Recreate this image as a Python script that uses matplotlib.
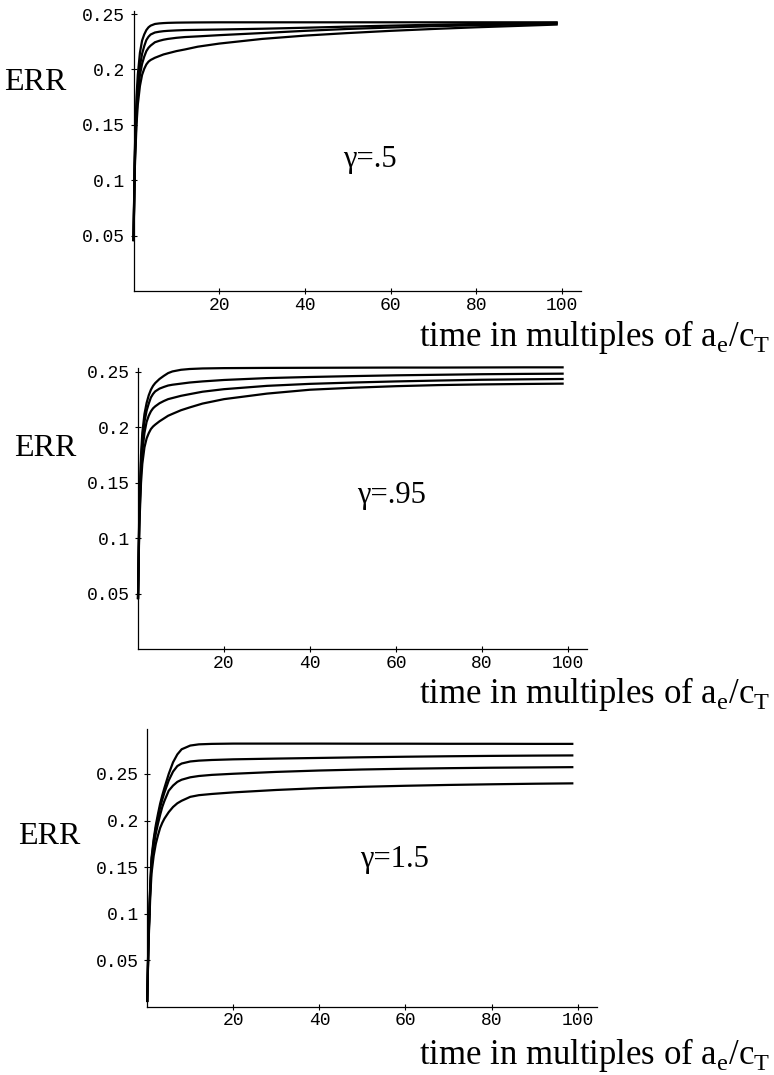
import matplotlib
matplotlib.use("Agg")
from matplotlib import pyplot as plt

plt.rcParams['mathtext.fontset'] = 'custom'
plt.rcParams['mathtext.rm'] = 'Liberation Serif'

# sample times (multiples of a_e/c_T)
t = [0, 0.3, 0.7, 1, 1.5, 2, 2.5, 3, 3.5, 4, 5, 6, 7, 8, 10, 12, 15, 20, 30, 40, 50, 60, 70, 80, 90, 99]

# gamma = .5
g05_c1 = [0.045, 0.125, 0.175, 0.195, 0.215, 0.226, 0.2315, 0.2355, 0.238, 0.2395, 0.241, 0.2415, 0.2418,
          0.242, 0.2422, 0.2423, 0.2424, 0.2425, 0.2425, 0.2425, 0.2425, 0.2425, 0.2425, 0.2425, 0.2425, 0.2425]
g05_c2 = [0.045, 0.12, 0.165, 0.185, 0.203, 0.214, 0.221, 0.2265, 0.2295, 0.2315, 0.2333, 0.234, 0.2345,
          0.2348, 0.2352, 0.2355, 0.2357, 0.236, 0.2367, 0.2376, 0.2386, 0.2395, 0.2403, 0.241, 0.2415, 0.242]
g05_c3 = [0.045, 0.115, 0.158, 0.177, 0.195, 0.205, 0.2115, 0.2165, 0.2195, 0.2215, 0.2245, 0.2258, 0.2268,
          0.2275, 0.2285, 0.2292, 0.2298, 0.2309, 0.2328, 0.2348, 0.2365, 0.2378, 0.239, 0.2398, 0.2405, 0.2413]
g05_c4 = [0.045, 0.11, 0.15, 0.168, 0.185, 0.195, 0.2005, 0.2045, 0.207, 0.2085, 0.2105, 0.212, 0.2135,
          0.2145, 0.2165, 0.218, 0.2205, 0.2233, 0.2275, 0.2305, 0.2328, 0.2348, 0.2365, 0.238, 0.2393, 0.2405]

# gamma = .95
g095_c1 = [0.045, 0.125, 0.175, 0.195, 0.212, 0.222, 0.229, 0.234, 0.2375, 0.240, 0.2437, 0.2465, 0.249,
           0.2505, 0.252, 0.2527, 0.2532, 0.2535, 0.2537, 0.2538, 0.2539, 0.254, 0.254, 0.2541, 0.2542, 0.2542]
g095_c2 = [0.045, 0.12, 0.168, 0.187, 0.205, 0.215, 0.2215, 0.227, 0.2302, 0.2325, 0.235, 0.2365, 0.2378,
           0.2385, 0.2395, 0.2405, 0.2415, 0.2428, 0.2445, 0.2455, 0.2463, 0.247, 0.2475, 0.248, 0.2483, 0.2485]
g095_c3 = [0.045, 0.115, 0.16, 0.178, 0.195, 0.205, 0.2105, 0.2145, 0.2172, 0.219, 0.2218, 0.2238, 0.2255,
           0.2265, 0.2285, 0.23, 0.2322, 0.2345, 0.2375, 0.2393, 0.2405, 0.2415, 0.2423, 0.243, 0.2434, 0.2437]
g095_c4 = [0.045, 0.11, 0.15, 0.167, 0.182, 0.19, 0.1948, 0.1985, 0.2008, 0.2025, 0.2055, 0.208, 0.2105,
           0.2122, 0.2155, 0.218, 0.2215, 0.2255, 0.2305, 0.234, 0.2358, 0.2372, 0.2382, 0.2388, 0.2392, 0.2395]

# gamma = 1.5
g15_c1 = [0.005, 0.075, 0.13, 0.16, 0.18, 0.195, 0.207, 0.218, 0.227, 0.235, 0.25, 0.2625, 0.271,
          0.2765, 0.2805, 0.2818, 0.2823, 0.2826, 0.2826, 0.2826, 0.2825, 0.2825, 0.2824, 0.2824, 0.2823, 0.2823]
g15_c2 = [0.005, 0.073, 0.128, 0.157, 0.177, 0.192, 0.203, 0.214, 0.2225, 0.23, 0.243, 0.2525, 0.2585,
          0.2612, 0.2634, 0.2643, 0.265, 0.2657, 0.2665, 0.2672, 0.2679, 0.2685, 0.269, 0.2694, 0.2697, 0.2699]
g15_c3 = [0.005, 0.07, 0.124, 0.152, 0.172, 0.186, 0.1965, 0.206, 0.2145, 0.221, 0.232, 0.2375, 0.2415,
          0.2438, 0.2464, 0.2478, 0.249, 0.2502, 0.2522, 0.2537, 0.2548, 0.2556, 0.2562, 0.2567, 0.257, 0.2573]
g15_c4 = [0.005, 0.066, 0.117, 0.143, 0.162, 0.175, 0.184, 0.192, 0.1975, 0.202, 0.209, 0.2145, 0.2185,
          0.2212, 0.2254, 0.2272, 0.2285, 0.2302, 0.2328, 0.2348, 0.2362, 0.2373, 0.2382, 0.2389, 0.2395, 0.2399]

x_ticks = [20, 40, 60, 80, 100]
y_ticks = [0.05, 0.1, 0.15, 0.2, 0.25]
y_labels = ['0.05', '0.1', '0.15', '0.2', '0.25']

W, H = 774, 1075
fig = plt.figure(figsize=(W / 100, H / 100), dpi=100)


def make_axes(x0, y0, px_per_x, px_per_y, ylim_top, xmax=104.5):
    # x0,y0 = pixel position of the data origin
    width = xmax * px_per_x
    height = ylim_top * px_per_y
    ax = fig.add_axes([x0 / W, (H - y0) / H, width / W, height / H])
    ax.set_xlim(0, xmax)
    ax.set_ylim(0, ylim_top)
    for s in ['top', 'right']:
        ax.spines[s].set_visible(False)
    for s in ['left', 'bottom']:
        ax.spines[s].set_linewidth(0.9)
    ax.set_xticks(x_ticks)
    ax.set_xticklabels([str(v) for v in x_ticks], family='Liberation Mono', fontsize=13)
    ax.tick_params(direction='inout', length=4, width=0.8, pad=4)
    ax.tick_params(axis='x', pad=2)
    ax.patch.set_alpha(0)
    return ax


panels = [
    (133.5, 291, 4.285, 1108, 0.2527, [g05_c1, g05_c2, g05_c3, g05_c4], 'γ=.5', (370, 160), (35, 82), 337),
    (138, 649, 4.30, 1108, 0.2536, [g095_c1, g095_c2, g095_c3, g095_c4], 'γ=.95', (392, 495), (45, 448), 694),
    (147.2, 1006.7, 4.305, 931, 0.298, [g15_c1, g15_c2, g15_c3, g15_c4], 'γ=1.5', (395, 860), (49, 836), 1055),
]

for x0, y0, px, py, ytop, curves, glabel, gpos, errpos, xlab_y in panels:
    ax = make_axes(x0, y0, px, py, ytop)
    for c in curves:
        ax.plot(t, c, color='black', lw=1.6, clip_on=False, solid_capstyle='butt')
    ax.set_yticks(y_ticks)
    ax.set_yticklabels(y_labels, family='Liberation Mono', fontsize=13)
    fig.text(gpos[0] / W, 1 - gpos[1] / H, glabel, family='Liberation Serif', fontsize=22,
             ha='center', va='center')
    fig.text(errpos[0] / W, 1 - errpos[1] / H, 'ERR', family='Liberation Serif', fontsize=23,
             ha='center', va='center')
    fig.text(770 / W, 1 - xlab_y / H,
             r'time in multiples of a$_\mathregular{e}$/c$_\mathregular{T}$',
             family='Liberation Serif', fontsize=25, ha='right', va='center')

fig.savefig('out.png', dpi=100)
